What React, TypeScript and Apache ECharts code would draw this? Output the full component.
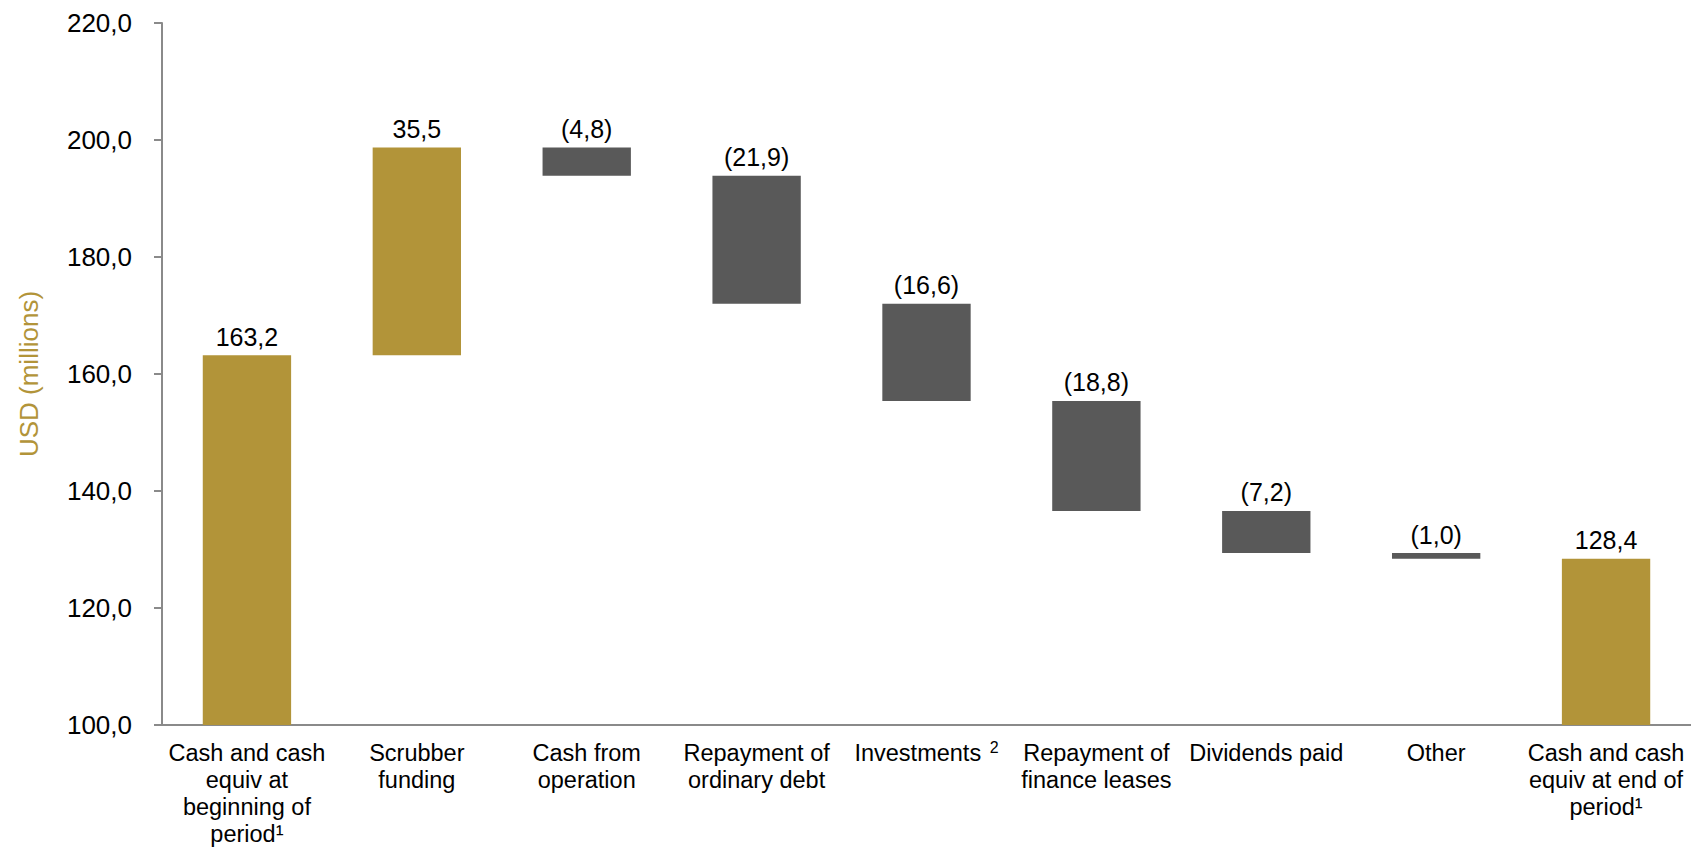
import React, { useEffect, useRef } from "react";
import * as echarts from "echarts";

const categories = [
  "Cash and cash\nequiv at\nbeginning of\nperiod¹",
  "Scrubber\nfunding",
  "Cash from\noperation",
  "Repayment of\nordinary debt",
  "Investments ²",
  "Repayment of\nfinance leases",
  "Dividends paid",
  "Other",
  "Cash and cash\nequiv at end of\nperiod¹",
];
// change per step (totals for first and last)
const changes = [163.2, 35.5, -4.8, -21.9, -16.6, -18.8, -7.2, -1.0, 128.4];
const isTotal = [true, false, false, false, false, false, false, false, true];
const yTicks = { min: 100, max: 220, interval: 20 };

const GOLD = "#B29439";
const GRAY = "#595959";

export default function App() {
  const ref = useRef<HTMLDivElement>(null);
  useEffect(() => {
    if (!ref.current) return;
    const chart = echarts.init(ref.current, undefined, { renderer: "svg" });

    const base: number[] = [];
    const visible: any[] = [];
    let running = 0;
    changes.forEach((c, i) => {
      if (isTotal[i]) {
        base.push(0);
        visible.push({ value: c, itemStyle: { color: GOLD } });
        running = c;
      } else if (c >= 0) {
        base.push(+running.toFixed(1));
        visible.push({ value: c, itemStyle: { color: GOLD } });
        running = running + c;
      } else {
        running = running + c;
        base.push(+running.toFixed(1));
        visible.push({ value: -c, itemStyle: { color: GRAY } });
      }
    });

    const fmt = (v: number) => v.toFixed(1).replace(".", ",");

    chart.setOption({
      animation: false,
      textStyle: { fontFamily: "Liberation Sans, Arial, sans-serif" },
      grid: {
        left: 162,
        right: 0,
        top: 23,
        bottom: 122,
        containLabel: false,
        outerBoundsMode: "none",
      },
      xAxis: {
        type: "category",
        data: categories,
        axisLine: { lineStyle: { color: "#8a8a8a", width: 2 } },
        axisTick: { show: false },
        axisLabel: {
          interval: 0,
          color: "#000",
          fontSize: 23.5,
          lineHeight: 27,
          margin: 14,
          align: "center",
          verticalAlign: "top",
          formatter: (v: string) =>
            v.endsWith(" ²") ? "{main|" + v.slice(0, -2) + " }{sup|2}" : v,
          rich: {
            main: { fontSize: 23.5, color: "#000", lineHeight: 27 },
            sup: { fontSize: 16, color: "#000", lineHeight: 16, verticalAlign: "top", padding: [0, 0, 0, 2] },
          },
        },
      },
      yAxis: {
        type: "value",
        min: yTicks.min,
        max: yTicks.max,
        interval: yTicks.interval,
        name: "USD (millions)",
        nameLocation: "middle",
        nameRotate: 90,
        nameGap: 120,
        nameTextStyle: { color: GOLD, fontSize: 26 },
        axisLine: { show: true, lineStyle: { color: "#8a8a8a", width: 2 } },
        axisTick: { show: true, length: 8, lineStyle: { color: "#8a8a8a", width: 2 } },
        splitLine: { show: false },
        axisLabel: {
          color: "#000",
          fontSize: 26,
          margin: 30,
          formatter: (v: number) => fmt(v),
        },
      },
      series: [
        {
          type: "bar",
          stack: "wf",
          data: base,
          itemStyle: { color: "transparent" },
          silent: true,
          barWidth: "52%",
          clip: true,
        },
        {
          type: "bar",
          stack: "wf",
          data: visible,
          barWidth: "52%",
          clip: true,
          label: {
            show: true,
            position: "top",
            distance: 6,
            color: "#000",
            fontSize: 25,
            formatter: (p: any) => {
              const c = changes[p.dataIndex];
              return c < 0 ? "(" + fmt(-c) + ")" : fmt(c);
            },
          },
        },
      ],
    });
    return () => chart.dispose();
  }, []);
  return (
    <div
      ref={ref}
      style={{ position: "fixed", left: 0, top: 0, width: 1691, height: 847, background: "#fff" }}
    />
  );
}
